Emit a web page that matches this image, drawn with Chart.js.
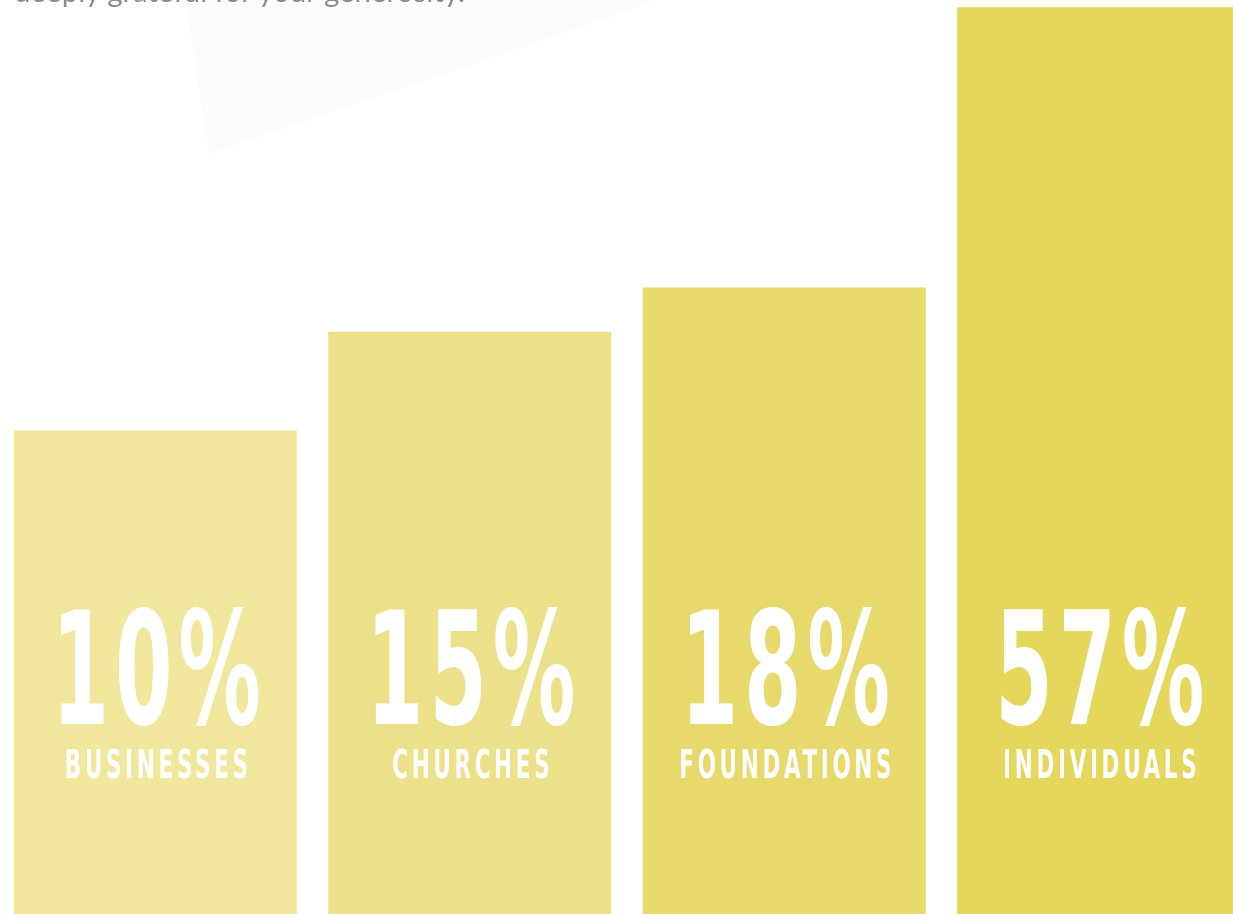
<!DOCTYPE html>
<html>
<head>
<meta charset="utf-8">
<script src="https://cdn.jsdelivr.net/npm/chart.js@4/dist/chart.umd.min.js"></script>
<style>
    html, body { margin: 0; padding: 0; background: #fff; overflow: hidden; }
    body { width: 1233px; height: 914px; position: relative; }
    #intro {
        position: absolute; left: 14px; top: -27px;
        font-family: Lato, 'Open Sans', sans-serif; font-weight: 400;
        font-size: 29.5px; color: #8c8c8c; white-space: nowrap; z-index: 2;
    }
    #shape { position: absolute; left: 0; top: 0; z-index: 0; }
    #donorChart { position: absolute; left: -2px; top: 0; z-index: 1; }
</style>
</head>
<body>
<svg id="shape" width="1233" height="170"><polygon points="186,0 660,0 209,154" fill="#fcfcfc"/></svg>
<div id="intro">deeply grateful for your generosity.</div>
<canvas id="donorChart" width="1258" height="914"></canvas>
<script>
// Donor groups and their share of giving
const categories = ['BUSINESSES', 'CHURCHES', 'FOUNDATIONS', 'INDIVIDUALS'];
const shares = [10, 15, 18, 57];
const barColors = ['#f0e69c', '#ede08b', '#e7d96c', '#e4d75b'];

// Draw the big percentage and the group name inside each bar
const barLabels = {
    id: 'barLabels',
    afterDatasetsDraw(chart) {
        const ctx = chart.ctx;
        const bars = chart.getDatasetMeta(0).data;
        const bottom = chart.chartArea.bottom;
        const numFont = "bold 156px 'Liberation Sans Narrow', 'DejaVu Sans Condensed', 'Liberation Sans', sans-serif";
        const nameFont = "bold 39px 'Liberation Sans Narrow', 'DejaVu Sans Condensed', 'Liberation Sans', sans-serif";

        ctx.save();
        ctx.fillStyle = '#ffffff';
        ctx.textAlign = 'left';
        ctx.textBaseline = 'alphabetic';

        // one horizontal squeeze for all names, taken from the first label
        ctx.font = nameFont;
        ctx.letterSpacing = '6px';
        const nameScale = Math.min(1, 0.66 * bars[0].width / ctx.measureText(categories[0]).width);

        bars.forEach((bar, i) => {
            // percentage
            ctx.font = numFont;
            ctx.letterSpacing = '10px';
            const txt = shares[i] + '%';
            const w = ctx.measureText(txt).width;
            const sx = Math.min(1, 0.76 * bar.width / w);
            ctx.save();
            ctx.translate(bar.x - (w * sx) / 2 + 4, bottom - 190);
            ctx.scale(sx, 1);
            ctx.fillText(txt, 0, 0);
            ctx.restore();

            // group name
            ctx.font = nameFont;
            ctx.letterSpacing = '6px';
            const nw = ctx.measureText(categories[i]).width;
            ctx.save();
            ctx.translate(bar.x - (nw * nameScale) / 2 + 3, bottom - 136);
            ctx.scale(nameScale, 1);
            ctx.fillText(categories[i], 0, 0);
            ctx.restore();
        });
        ctx.restore();
    }
};

new Chart(document.getElementById('donorChart'), {
    type: 'bar',
    data: {
        labels: categories,
        datasets: [
            {
                data: shares,
                backgroundColor: barColors,
                borderWidth: 0,
                barPercentage: 0.9,
                categoryPercentage: 1.0,
            },
        ],
    },
    options: {
        responsive: false,
        animation: false,
        layout: { padding: 0 },
        plugins: {
            legend: { display: false },
            tooltip: { enabled: false },
        },
        scales: {
            x: { display: false },
            y: { type: 'logarithmic', display: false, min: 1.37, max: 58.7 },
        },
    },
    plugins: [barLabels],
});
</script>
</body>
</html>
